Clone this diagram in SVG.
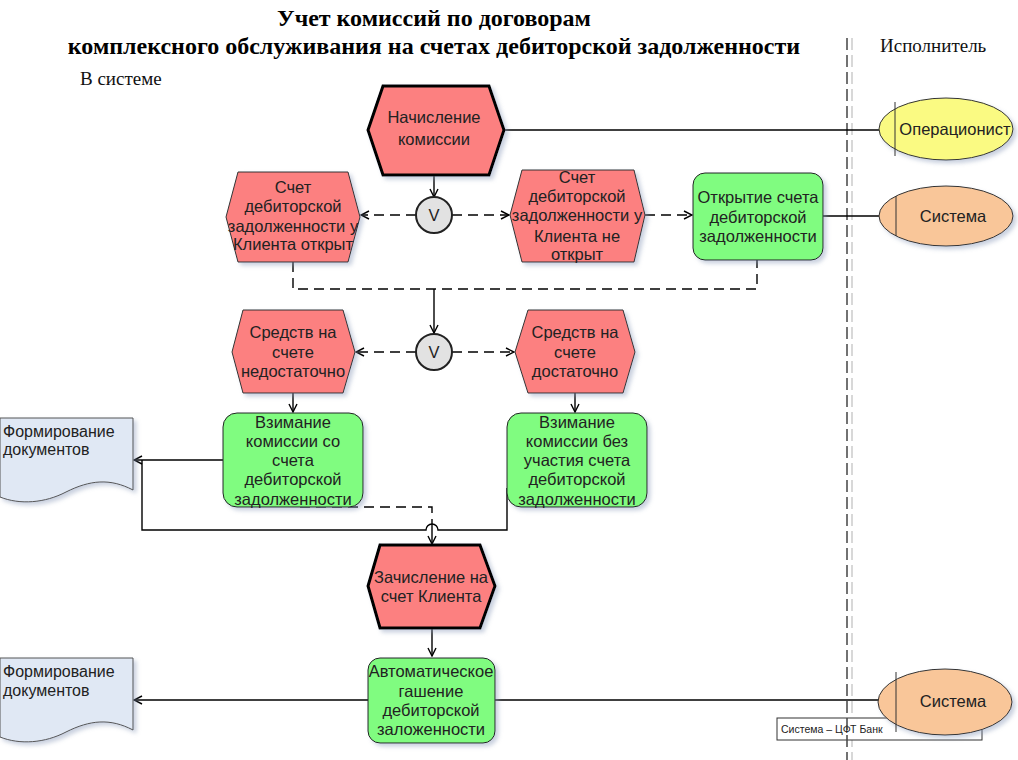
<svg xmlns="http://www.w3.org/2000/svg" width="1018" height="760" viewBox="0 0 1018 760">
<defs>
<style>
.t{font-family:"Liberation Sans",Arial,sans-serif;font-size:16.5px;fill:#222;text-anchor:middle}
.tl{font-family:"Liberation Sans",Arial,sans-serif;font-size:16px;fill:#222}
.ttl{font-family:"Liberation Serif","Times New Roman",serif;font-size:24px;font-weight:bold;fill:#000;text-anchor:middle}
.st{font-family:"Liberation Serif","Times New Roman",serif;font-size:19px;fill:#111}
.ev{fill:#fc8080;stroke:#333;stroke-width:1;filter:url(#sh)}
.evb{fill:#fc8080;stroke:#000;stroke-width:3;filter:url(#sh)}
.fn{fill:#80fc80;stroke:#222;stroke-width:1;filter:url(#sh)}
.gw{fill:#e2e2e2;stroke:#222;stroke-width:2}
.doc{fill:#e0e8f4;stroke:#555;stroke-width:1;filter:url(#sh)}
.c{fill:none;stroke:#000;stroke-width:1.4}
.d{fill:none;stroke:#000;stroke-width:1.4;stroke-dasharray:10,6}
</style>
<filter id="sh" x="-10%" y="-10%" width="130%" height="130%">
<feDropShadow dx="3" dy="3" stdDeviation="2" flood-color="#8898b8" flood-opacity="0.45"/>
</filter>
<marker id="a" viewBox="0 0 10 10" refX="9" refY="5" markerWidth="10" markerHeight="10" markerUnits="userSpaceOnUse" orient="auto">
<path d="M1,1 L9,5 L1,9" fill="none" stroke="#000" stroke-width="1.4"/>
</marker>
</defs>
<rect width="1018" height="760" fill="#fff"/>

<g id="titles">
<text class="ttl" x="434" y="26">Учет комиссий по договорам</text>
<text class="ttl" x="434" y="54">комплексного обслуживания на счетах дебиторской задолженности</text>
<text class="st" x="80" y="85">В системе</text>
<text class="st" x="880" y="52">Исполнитель</text>
</g>

<g id="lane">
<line x1="852" y1="38" x2="852" y2="760" stroke="#ccc" stroke-width="1.5" stroke-dasharray="12,5"/>
</g>

<g id="legend">
<rect x="777" y="718" width="205" height="22" fill="#fff" stroke="#333" stroke-width="1"/>
<text x="781" y="733" font-family="'Liberation Sans',Arial,sans-serif" font-size="10.5" fill="#222">Система – ЦФТ Банк</text>
</g>

<line x1="847" y1="38" x2="847" y2="760" stroke="#444" stroke-width="1.5" stroke-dasharray="12,5"/>

<g id="connectors">
<path class="c" d="M505,130 H880"/>
<path class="c" d="M823,216 H880"/>
<path class="c" d="M495,700 H880"/>
<path class="c" d="M434,175 V197" marker-end="url(#a)"/>
<path class="d" d="M416,215 H361" marker-end="url(#a)"/>
<path class="d" d="M452,215 H509" marker-end="url(#a)"/>
<path class="d" d="M645,215 H692" marker-end="url(#a)"/>
<path class="d" d="M293,262 V289 H757 V260"/>
<path class="c" d="M434,289 V333" marker-end="url(#a)"/>
<path class="d" d="M416,352 H356" marker-end="url(#a)"/>
<path class="d" d="M452,352 H514" marker-end="url(#a)"/>
<path class="c" d="M293,393 V412" marker-end="url(#a)"/>
<path class="c" d="M575,393 V412" marker-end="url(#a)"/>
<path class="c" d="M223,460 H134" marker-end="url(#a)"/>
<path class="c" d="M507,488 V530 H438 A6,6 0 0 0 426,530 H142 V460"/>
<path class="d" d="M300,507 H432 V520"/>
<path class="c" d="M432,520 V544" marker-end="url(#a)"/>
<path class="c" d="M432,628 V656" marker-end="url(#a)"/>
<path class="c" d="M368,700 H134" marker-end="url(#a)"/>
</g>

<g id="n-nachislenie">
<polygon class="evb" points="383,86 489,86 504,130 489,175 383,175 368,130"/>
<text class="t" x="434" y="123">Начисление</text>
<text class="t" x="434" y="145">комиссии</text>
</g>

<g id="n-operacionist">
<ellipse cx="946" cy="129" rx="67" ry="31" fill="#fafa82" stroke="#333" stroke-width="1" filter="url(#sh)"/>
<line x1="895" y1="102" x2="895" y2="156" stroke="#333" stroke-width="1"/>
<text class="t" x="955" y="135">Операционист</text>
</g>

<g id="n-gw1">
<circle class="gw" cx="434" cy="215" r="18"/>
<text class="t" x="434" y="221" font-size="17">V</text>
</g>

<g id="n-otkryt">
<polygon class="ev" points="238,172 348,172 360,217 348,262 238,262 226,217"/>
<text class="t" x="293" y="193">Счет</text>
<text class="t" x="293" y="212">дебиторской</text>
<text class="t" x="293" y="232">задолженности у</text>
<text class="t" x="293" y="250">Клиента открыт</text>
</g>

<g id="n-neotkryt">
<polygon class="ev" points="522,170 634,170 645,215 634,262 522,262 510,215"/>
<text class="t" x="577" y="183">Счет</text>
<text class="t" x="577" y="202">дебиторской</text>
<text class="t" x="577" y="221">задолженности у</text>
<text class="t" x="577" y="242">Клиента не</text>
<text class="t" x="577" y="260">открыт</text>
</g>

<g id="n-otkrytie">
<rect class="fn" x="693" y="173" width="130" height="87" rx="12"/>
<text class="t" x="758" y="203">Открытие счета</text>
<text class="t" x="758" y="223">дебиторской</text>
<text class="t" x="758" y="242">задолженности</text>
</g>

<g id="n-sistema1">
<ellipse cx="946" cy="216" rx="67" ry="30" fill="#f9c699" stroke="#333" stroke-width="1" filter="url(#sh)"/>
<line x1="896" y1="196" x2="896" y2="236" stroke="#333" stroke-width="1"/>
<text class="t" x="953" y="222">Система</text>
</g>

<g id="n-gw2">
<circle class="gw" cx="434" cy="352" r="18"/>
<text class="t" x="434" y="358" font-size="17">V</text>
</g>

<g id="n-nedost">
<polygon class="ev" points="243,310 343,310 355,352 343,393 243,393 232,352"/>
<text class="t" x="293" y="338">Средств на</text>
<text class="t" x="293" y="358">счете</text>
<text class="t" x="293" y="377">недостаточно</text>
</g>

<g id="n-dost">
<polygon class="ev" points="528,310 623,310 635,352 623,393 528,393 515,352"/>
<text class="t" x="575" y="338">Средств на</text>
<text class="t" x="575" y="358">счете</text>
<text class="t" x="575" y="377">достаточно</text>
</g>

<g id="n-vzim1">
<rect class="fn" x="223" y="413" width="140" height="94" rx="14"/>
<text class="t" x="293" y="428">Взимание</text>
<text class="t" x="293" y="447">комиссии со</text>
<text class="t" x="293" y="466">счета</text>
<text class="t" x="293" y="485">дебиторской</text>
<text class="t" x="293" y="505">задолженности</text>
</g>

<g id="n-vzim2">
<rect class="fn" x="507" y="413" width="140" height="94" rx="14"/>
<text class="t" x="577" y="428">Взимание</text>
<text class="t" x="577" y="447">комиссии без</text>
<text class="t" x="577" y="466">участия счета</text>
<text class="t" x="577" y="485">дебиторской</text>
<text class="t" x="577" y="505">задолженности</text>
</g>

<g id="n-doc1">
<path class="doc" d="M0,418 H133 V490 C110,478 90,480 66,492 C45,503 20,505 0,497 Z"/>
<text class="tl" x="3" y="437">Формирование</text>
<text class="tl" x="3" y="455">документов</text>
</g>

<g id="n-zachislenie">
<polygon class="evb" points="380,545 480,545 495,586 480,628 380,628 368,586"/>
<text class="t" x="431" y="583">Зачисление на</text>
<text class="t" x="431" y="602">счет Клиента</text>
</g>

<g id="n-avto">
<rect class="fn" x="368" y="658" width="127" height="85" rx="12"/>
<text class="t" x="431" y="677">Автоматическое</text>
<text class="t" x="431" y="697">гашение</text>
<text class="t" x="431" y="716">дебиторской</text>
<text class="t" x="431" y="735">заложенности</text>
</g>

<g id="n-doc2">
<path class="doc" d="M0,658 H133 V730 C110,718 90,720 66,732 C45,743 20,745 0,737 Z"/>
<text class="tl" x="3" y="677">Формирование</text>
<text class="tl" x="3" y="696">документов</text>
</g>

<g id="n-sistema2">
<ellipse cx="945" cy="702" rx="67" ry="33" fill="#f9c699" stroke="#333" stroke-width="1" filter="url(#sh)"/>
<line x1="896" y1="672" x2="896" y2="732" stroke="#333" stroke-width="1"/>
<text class="t" x="953" y="707">Система</text>
</g>
</svg>
